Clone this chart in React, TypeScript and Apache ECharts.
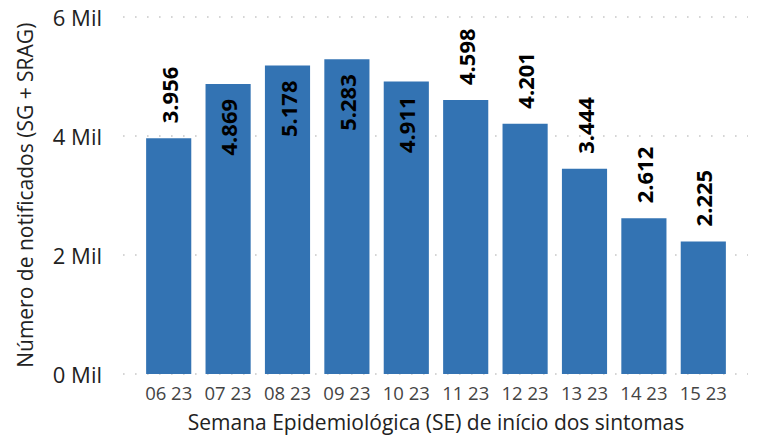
import React, { useEffect, useRef } from "react";
import * as echarts from "echarts";

const categories = ["06 23", "07 23", "08 23", "09 23", "10 23", "11 23", "12 23", "13 23", "14 23", "15 23"];
const notificados = [3956, 4869, 5178, 5283, 4911, 4598, 4201, 3444, 2612, 2225];
const yTicks = [0, 2000, 4000, 6000];

const FONT = "'Segoe UI', 'Open Sans', sans-serif";

function fmt(v: number): string {
  return v.toLocaleString("pt-BR");
}

export default function App() {
  const ref = useRef<HTMLDivElement>(null);
  useEffect(() => {
    if (!ref.current) return;
    const chart = echarts.init(ref.current, undefined, { renderer: "svg" });
    const yMax = yTicks[yTicks.length - 1];
    const interval = yTicks[1] - yTicks[0];
    const baseLabel = {
      show: true,
      rotate: 90,
      fontFamily: FONT,
      fontWeight: "bold" as const,
      fontSize: 22,
      color: "#000",
      verticalAlign: "middle" as const,
      distance: 15,
      formatter: (p: any) => fmt(p.value),
    };
    const outside = { ...baseLabel, position: "top" as const, align: "left" as const };
    const inside = { ...baseLabel, position: "insideTop" as const, align: "right" as const };
    chart.setOption({
      animation: false,
      grid: [
        { left: 123, right: 10, top: 16.5, bottom: 64 },
        { left: 139, right: 25, top: 16.5, bottom: 64 },
      ],
      xAxis: [
        { gridIndex: 0, type: "value", show: false, min: 0, max: 1 },
        {
          gridIndex: 1,
          type: "category",
          data: categories,
          axisLine: { show: false },
          axisTick: { show: false },
          axisLabel: { color: "#444", fontSize: 18.5, fontFamily: FONT, margin: 9, interval: 0 },
          name: "Semana Epidemiológica (SE) de início dos sintomas",
          nameLocation: "middle",
          nameGap: 37,
          nameTextStyle: { color: "#222", fontSize: 21, fontFamily: FONT },
        },
      ],
      yAxis: [
        {
          gridIndex: 0,
          type: "value",
          min: 0,
          max: yMax,
          interval,
          axisLine: { show: false },
          axisTick: { show: false },
          splitLine: {
            show: true,
            lineStyle: { color: "#c8c8c8", width: 1.6, type: [1.6, 10.4] },
          },
          axisLabel: {
            color: "#222",
            fontSize: 22,
            fontFamily: FONT,
            margin: 21,
            formatter: (v: number) => `${v / 1000} Mil`,
          },
          name: "Número de notificados (SG + SRAG)",
          nameLocation: "middle",
          nameGap: 88,
          nameRotate: 90,
          nameTextStyle: { color: "#222", fontSize: 21, fontFamily: FONT },
        },
        {
          gridIndex: 1,
          type: "value",
          min: 0,
          max: yMax,
          interval,
          show: false,
          splitLine: { show: false },
        },
      ],
      series: [
        {
          type: "bar",
          xAxisIndex: 1,
          yAxisIndex: 1,
          barCategoryGap: "24%",
          itemStyle: { color: "#3373B3" },
          data: notificados.map((v) => ({ value: v, label: v > 4700 ? inside : outside })),
        },
      ],
    });
    return () => chart.dispose();
  }, []);
  return <div ref={ref} style={{ width: 758, height: 438, position: "absolute", left: 0, top: 0 }} />;
}
